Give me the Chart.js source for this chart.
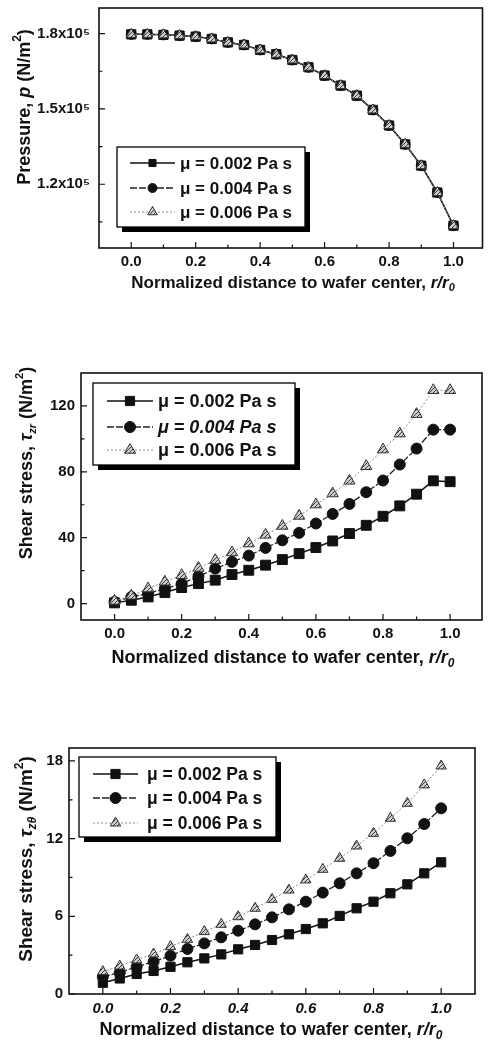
<!DOCTYPE html>
<html>
<head>
<meta charset="utf-8">
<script src="https://cdn.jsdelivr.net/npm/chart.js@4.4.1/dist/chart.umd.min.js"></script>
<style>
  html, body { margin: 0; padding: 0; background: #fff; }
  canvas { position: absolute; left: 0; }
</style>
</head>
<body>
<canvas id="c1" width="490" height="310" style="top:0"></canvas>
<canvas id="c2" width="490" height="365" style="top:310px"></canvas>
<canvas id="c3" width="490" height="366" style="top:675px"></canvas>
<script>
// r / r0
const radius = [0, 0.05, 0.1, 0.15, 0.2, 0.25, 0.3, 0.35, 0.4, 0.45, 0.5,
                0.55, 0.6, 0.65, 0.7, 0.75, 0.8, 0.85, 0.9, 0.95, 1.0];
const seriesLabels = ['\u03bc = 0.002 Pa s', '\u03bc = 0.004 Pa s', '\u03bc = 0.006 Pa s'];

// pressure, N/m^2 (the three curves coincide)
const pressure002 = [179700, 179700, 179500, 179200, 178800, 177900, 176500, 175500, 173500, 171800, 169500,
                     166600, 163300, 159300, 155300, 149600, 143400, 135900, 127400, 116700, 103500];
const pressure004 = [179700, 179700, 179500, 179200, 178800, 177900, 176500, 175500, 173500, 171800, 169500,
                     166600, 163300, 159300, 155300, 149600, 143400, 135900, 127400, 116700, 103500];
const pressure006 = [179700, 179700, 179500, 179200, 178800, 177900, 176500, 175500, 173500, 171800, 169500,
                     166600, 163300, 159300, 155300, 149600, 143400, 135900, 127400, 116700, 103500];

// shear stress tau_zr, N/m^2
const tauZr002 = [0.4, 2.0, 4.0, 6.7, 9.7, 12.1, 14.2, 17.6, 20.2, 23.3, 26.7,
                  30.3, 34.0, 38.0, 42.5, 47.5, 53.0, 59.3, 66.4, 74.5, 74.0];
const tauZr004 = [1.0, 4.0, 6.1, 9.1, 12.1, 16.5, 21.2, 25.3, 29.1, 33.8, 38.4,
                  42.9, 48.6, 54.4, 60.5, 67.6, 74.7, 84.4, 94.1, 105.6, 105.6];
const tauZr006 = [1.6, 4.7, 9.1, 13.2, 17.2, 21.6, 26.3, 31.0, 36.4, 41.7, 47.1,
                  53.2, 60.1, 66.8, 74.5, 83.4, 93.5, 103.2, 115.0, 129.5, 129.5];

// shear stress tau_ztheta, N/m^2
const tauZt002 = [0.87, 1.2, 1.55, 1.78, 2.1, 2.45, 2.75, 3.06, 3.45, 3.79, 4.17,
                  4.61, 5.02, 5.46, 6.03, 6.62, 7.13, 7.78, 8.47, 9.32, 10.17];
const tauZt004 = [1.34, 1.65, 2.1, 2.5, 2.96, 3.48, 3.91, 4.38, 4.89, 5.38, 5.92,
                  6.54, 7.13, 7.83, 8.55, 9.32, 10.1, 11.05, 12.03, 13.13, 14.34];
const tauZt006 = [1.73, 2.16, 2.63, 3.09, 3.66, 4.22, 4.82, 5.38, 5.97, 6.62, 7.31,
                  8.03, 8.81, 9.63, 10.48, 11.43, 12.41, 13.57, 14.73, 16.15, 17.61];

// tick positions
const xTicks = [0, 0.2, 0.4, 0.6, 0.8, 1.0];
const xMinor = [0.1, 0.3, 0.5, 0.7, 0.9];
const pTicks = [120000, 150000, 180000];
const pMinor = [105000, 135000, 165000];
const zrTicks = [0, 40, 80, 120];
const zrMinor = [20, 60, 100];
const ztTicks = [0, 6, 12, 18];
const ztMinor = [3, 9, 15];

const FONT = '"Liberation Sans", Arial, Helvetica, sans-serif';
const INK = '#111';

function hatch() {
    const c = document.createElement('canvas');
    c.width = c.height = 4;
    const g = c.getContext('2d');
    g.fillStyle = '#cfcfcf';
    g.fillRect(0, 0, 4, 4);
    g.strokeStyle = '#3a3a3a';
    g.lineWidth = 1;
    g.beginPath();
    g.moveTo(0, 4); g.lineTo(4, 0);
    g.stroke();
    return g.createPattern(c, 'repeat');
}
const hatchFill = hatch();

// draw a line of text with italic / sub / superscript parts, centred on (x, y)
function richText(ctx, segs, x, y, size, rotate) {
    ctx.save();
    ctx.translate(x, y);
    if (rotate) ctx.rotate(-Math.PI / 2);
    const fontFor = s => (s.it ? 'italic ' : '') + 'bold ' +
        Math.round(size * (s.sub || s.sup ? 0.65 : 1)) + 'px ' + FONT;
    let w = 0;
    segs.forEach(s => { ctx.font = fontFor(s); w += ctx.measureText(s.t).width; });
    let cx = -w / 2;
    ctx.textBaseline = 'middle';
    ctx.textAlign = 'left';
    ctx.fillStyle = INK;
    segs.forEach(s => {
        ctx.font = fontFor(s);
        const dy = s.sub ? size * 0.32 : s.sup ? -size * 0.42 : 0;
        ctx.fillText(s.t, cx, dy);
        cx += ctx.measureText(s.t).width;
    });
    ctx.restore();
}

const xTitle = [
    { t: 'Normalized distance to wafer center, ' },
    { t: 'r/r', it: true },
    { t: '0', it: true, sub: true }
];

// frame, inward ticks, titles and the boxed legend
const paperPlugin = {
    id: 'paper',
    afterDraw(chart, args, o) {
        const ctx = chart.ctx;
        const a = chart.chartArea;
        const xs = chart.scales.x, ys = chart.scales.y;
        ctx.save();
        ctx.strokeStyle = INK;
        ctx.lineWidth = 1.2;
        ctx.beginPath();
        const tick = (vals, len) => {
            vals.forEach(v => {
                const px = xs.getPixelForValue(v);
                ctx.moveTo(px, a.bottom); ctx.lineTo(px, a.bottom - len);
            });
        };
        tick(xTicks, 6);
        tick(xMinor, 3.5);
        o.yMajor.forEach(v => {
            const py = ys.getPixelForValue(v);
            ctx.moveTo(a.left, py); ctx.lineTo(a.left + 6, py);
        });
        o.yMinor.forEach(v => {
            const py = ys.getPixelForValue(v);
            ctx.moveTo(a.left, py); ctx.lineTo(a.left + 3.5, py);
        });
        ctx.stroke();
        ctx.lineWidth = 1.6;
        ctx.strokeRect(a.left, a.top, a.right - a.left, a.bottom - a.top);

        richText(ctx, xTitle, o.xTitleAt[0], o.xTitleAt[1], o.xTitleSize, false);
        richText(ctx, o.yTitle, o.yTitleAt[0], o.yTitleAt[1], o.yTitleSize, true);

        // legend
        const L = o.legend;
        ctx.fillStyle = '#000';
        ctx.fillRect(L.x + 5, L.y + 5, L.w, L.h);
        ctx.fillStyle = '#fff';
        ctx.fillRect(L.x, L.y, L.w, L.h);
        ctx.lineWidth = 1.3;
        ctx.strokeStyle = '#000';
        ctx.strokeRect(L.x, L.y, L.w, L.h);
        chart.data.datasets.forEach((ds, i) => {
            const y = L.y + L.rows[i];
            ctx.save();
            ctx.strokeStyle = ds.borderColor;
            ctx.lineWidth = ds.borderWidth;
            ctx.setLineDash(ds.borderDash || []);
            ctx.beginPath();
            ctx.moveTo(L.x + L.line[0], y); ctx.lineTo(L.x + L.line[1], y);
            ctx.stroke();
            ctx.setLineDash([]);
            ctx.fillStyle = ds.pointBackgroundColor;
            ctx.strokeStyle = ds.pointBorderColor;
            ctx.lineWidth = 1;
            Chart.helpers.drawPoint(ctx, {
                pointStyle: ds.pointStyle, radius: L.marker[i], rotation: 0, borderWidth: 1
            }, L.x + (L.line[0] + L.line[1]) / 2, y);
            ctx.restore();
            ctx.fillStyle = INK;
            ctx.font = (L.italic && L.italic[i] ? 'italic ' : '') + 'bold ' + L.font + 'px ' + FONT;
            ctx.textBaseline = 'middle';
            ctx.textAlign = 'left';
            ctx.fillText(seriesLabels[i], L.x + L.text, y + 1);
        });
        ctx.restore();
    }
};

function makeDatasets(values, sizes) {
    return [
        {
            label: seriesLabels[0], data: values[0],
            borderColor: '#111', borderWidth: 1.5,
            pointStyle: 'rect', pointRadius: sizes[0],
            pointBackgroundColor: '#111', pointBorderColor: '#111', pointBorderWidth: 1,
            order: 3
        },
        {
            label: seriesLabels[1], data: values[1],
            borderColor: '#222', borderWidth: 1.3, borderDash: [7, 2],
            pointStyle: 'circle', pointRadius: sizes[1],
            pointBackgroundColor: '#111', pointBorderColor: '#111', pointBorderWidth: 1,
            order: 2
        },
        {
            label: seriesLabels[2], data: values[2],
            borderColor: '#8a8a8a', borderWidth: 1, borderDash: [2, 2],
            pointStyle: 'triangle', pointRadius: sizes[2],
            pointBackgroundColor: hatchFill, pointBorderColor: '#333', pointBorderWidth: 1,
            order: 1
        }
    ];
}

function makeChart(id, p) {
    const canvas = document.getElementById(id);
    return new Chart(canvas.getContext('2d'), {
        type: 'line',
        data: { labels: radius, datasets: makeDatasets(p.values, p.sizes) },
        plugins: [paperPlugin],
        options: {
            responsive: false,
            animation: false,
            events: [],
            layout: { padding: { top: p.area.t, right: canvas.width - p.area.r, left: 0, bottom: 0 } },
            plugins: {
                legend: { display: false },
                tooltip: { enabled: false },
                paper: p.paper
            },
            scales: {
                x: {
                    type: 'linear', min: -0.1, max: p.xMax,
                    afterBuildTicks: s => { s.ticks = xTicks.map(v => ({ value: v })); },
                    afterFit: s => {
                        s.height = canvas.height - p.area.b;
                        s.paddingLeft = 0; s.paddingRight = 0;
                    },
                    grid: { display: false, drawTicks: false },
                    border: { display: false },
                    ticks: {
                        padding: p.xPad, color: INK, maxRotation: 0, autoSkip: false,
                        font: { family: FONT, size: 15, weight: 'bold', style: p.xItalic ? 'italic' : 'normal' },
                        callback: v => v.toFixed(1)
                    }
                },
                y: {
                    type: 'linear', min: p.yMin, max: p.yMax,
                    afterBuildTicks: s => { s.ticks = p.yTicks.map(v => ({ value: v })); },
                    afterFit: s => {
                        s.width = p.area.l;
                        s.paddingTop = 0; s.paddingBottom = 0;
                    },
                    grid: { display: false, drawTicks: false },
                    border: { display: false },
                    ticks: {
                        padding: p.yPad, color: INK, autoSkip: false,
                        font: { family: FONT, size: 15, weight: 'bold' },
                        callback: p.yLabel
                    }
                }
            }
        }
    });
}

makeChart('c1', {
    values: [pressure002, pressure004, pressure006],
    sizes: [6.5, 5, 6],
    area: { l: 99, t: 8, r: 485, b: 248 },
    xMax: 1.09,
    yMin: 94600, yMax: 190200, yTicks: pTicks,
    yLabel: v => (v / 100000).toFixed(1) + 'x10\u2075',
    xPad: 5, yPad: 9,
    paper: {
        yMajor: pTicks, yMinor: pMinor, xTitleSize: 17, yTitleSize: 18,
        xTitleAt: [293, 283], yTitleAt: [25, 107],
        yTitle: [{ t: 'Pressure, ' }, { t: 'p', it: true }, { t: ' (N/m' }, { t: '2', sup: true }, { t: ')' }],
        legend: { x: 117, y: 147, w: 188, h: 80, rows: [16, 41, 65], line: [13, 58], text: 63, font: 17,
                  marker: [5, 4.5, 5.5] }
    }
});

makeChart('c2', {
    values: [tauZr002, tauZr004, tauZr006],
    sizes: [7, 5.5, 6.5],
    area: { l: 81, t: 63, r: 485, b: 310 },
    xMax: 1.095,
    yMin: -10, yMax: 140, yTicks: zrTicks,
    yLabel: v => String(v),
    xPad: 5, yPad: 6,
    paper: {
        yMajor: zrTicks, yMinor: zrMinor, xTitleSize: 18, yTitleSize: 17.5,
        xTitleAt: [283, 348], yTitleAt: [27, 153],
        yTitle: [{ t: 'Shear stress, ' }, { t: '\u03c4', it: true }, { t: 'zr', it: true, sub: true },
                 { t: ' (N/m' }, { t: '2', sup: true }, { t: ')' }],
        legend: { x: 93, y: 73, w: 202, h: 82, rows: [18, 44, 67], line: [14, 60], text: 65, font: 18,
                  italic: [false, true, false], marker: [6.5, 5.5, 6.5] }
    }
});

makeChart('c3', {
    values: [tauZt002, tauZt004, tauZt006],
    sizes: [6.5, 5.5, 6],
    area: { l: 69, t: 73, r: 475, b: 319 },
    xMax: 1.1,
    yMin: 0, yMax: 19, yTicks: ztTicks,
    yLabel: v => String(v),
    xPad: 6, yPad: 6, xItalic: true,
    paper: {
        yMajor: ztTicks, yMinor: ztMinor, xTitleSize: 18, yTitleSize: 18.5,
        xTitleAt: [271, 355], yTitleAt: [27, 184],
        yTitle: [{ t: 'Shear stress, ' }, { t: '\u03c4', it: true }, { t: 'z\u03b8', it: true, sub: true },
                 { t: ' (N/m' }, { t: '2', sup: true }, { t: ')' }],
        legend: { x: 79, y: 82, w: 197, h: 80, rows: [17, 41, 66], line: [14, 59], text: 68, font: 17.5,
                  marker: [6.5, 5.5, 6] }
    }
});
</script>
</body>
</html>
